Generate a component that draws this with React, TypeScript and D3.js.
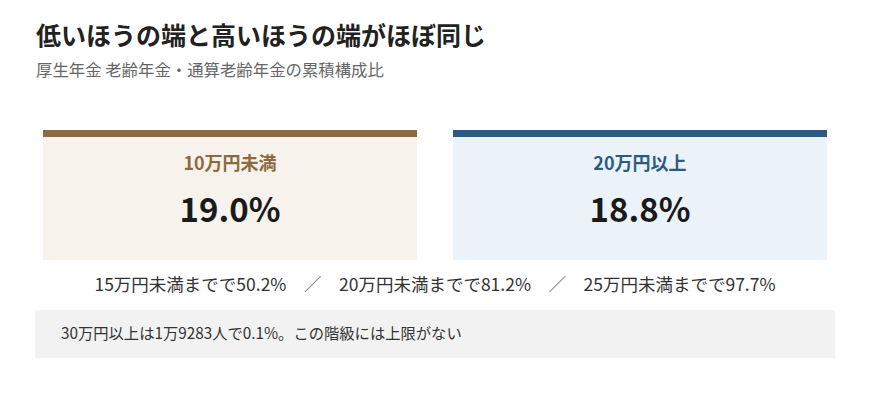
import React, { useEffect, useRef } from 'react';
import * as d3 from 'd3';

const title = '低いほうの端と高いほうの端がほぼ同じ';
const subtitle = '厚生年金 老齢年金・通算老齢年金の累積構成比';

const cardLabels = ['10万円未満', '20万円以上'];
const cardValues = [19.0, 18.8];
const cardColors = ['#8c6a3f', '#2b5b84'];
const cardFills = ['#f7f2ec', '#ebf3f8'];

const cumLabels = ['15万円未満まで', '20万円未満まで', '25万円未満まで'];
const cumValues = [50.2, 81.2, 97.7];

const noteText = '30万円以上は1万9283人で0.1%。この階級には上限がない';

const FONT = '"Noto Sans CJK JP", "Noto Sans", sans-serif';

const App: React.FC = () => {
  const ref = useRef<SVGSVGElement>(null);
  const width = 870;
  const height = 400;

  useEffect(() => {
    if (!ref.current) return;
    const svg = d3.select(ref.current);
    svg.selectAll('*').remove();
    svg.attr('font-family', FONT);

    // heading
    svg
      .append('text')
      .attr('x', 36)
      .attr('y', 45)
      .attr('font-size', 25)
      .attr('font-weight', 700)
      .attr('fill', '#222')
      .text(title);

    svg
      .append('text')
      .attr('x', 36)
      .attr('y', 76)
      .attr('font-size', 16.4)
      .attr('fill', '#666')
      .text(subtitle);

    // two cards
    const x = d3
      .scaleBand<string>()
      .domain(cardLabels)
      .range([43, 827])
      .paddingInner(0.0878);

    const top = 130;
    const bottom = 260;
    const bar = 7;

    const cards = svg
      .selectAll('g.card')
      .data(cardLabels)
      .enter()
      .append('g')
      .attr('class', 'card')
      .attr('transform', d => `translate(${x(d)},0)`);

    cards
      .append('rect')
      .attr('y', top)
      .attr('width', x.bandwidth())
      .attr('height', bottom - top)
      .attr('fill', (_, i) => cardFills[i]);

    cards
      .append('rect')
      .attr('y', top)
      .attr('width', x.bandwidth())
      .attr('height', bar)
      .attr('fill', (_, i) => cardColors[i]);

    cards
      .append('text')
      .attr('x', x.bandwidth() / 2)
      .attr('y', 170)
      .attr('text-anchor', 'middle')
      .attr('font-size', 18)
      .attr('font-weight', 700)
      .attr('fill', (_, i) => cardColors[i])
      .text(d => d);

    cards
      .append('text')
      .attr('x', x.bandwidth() / 2)
      .attr('y', 222)
      .attr('text-anchor', 'middle')
      .attr('font-size', 33)
      .attr('font-weight', 700)
      .attr('fill', '#1a1a1a')
      .text((_, i) => `${cardValues[i].toFixed(1)}%`);

    // cumulative row
    const row = svg
      .append('text')
      .attr('x', 435)
      .attr('y', 291)
      .attr('text-anchor', 'middle')
      .attr('font-size', 17.5)
      .attr('fill', '#333');

    cumLabels.forEach((l, i) => {
      if (i > 0) row.append('tspan').attr('fill', '#666').text('　／　');
      row.append('tspan').text(`${l}で${cumValues[i].toFixed(1)}%`);
    });

    // note box
    svg
      .append('rect')
      .attr('x', 35)
      .attr('y', 310)
      .attr('width', 800)
      .attr('height', 48)
      .attr('fill', '#f2f2f2');

    svg
      .append('text')
      .attr('x', 61)
      .attr('y', 339)
      .attr('font-size', 15.3)
      .attr('fill', '#333')
      .text(noteText);
  }, []);

  return (
    <svg
      ref={ref}
      width={width}
      height={height}
      style={{ position: 'absolute', left: 0, top: 0, background: '#fff' }}
    />
  );
};

export default App;
